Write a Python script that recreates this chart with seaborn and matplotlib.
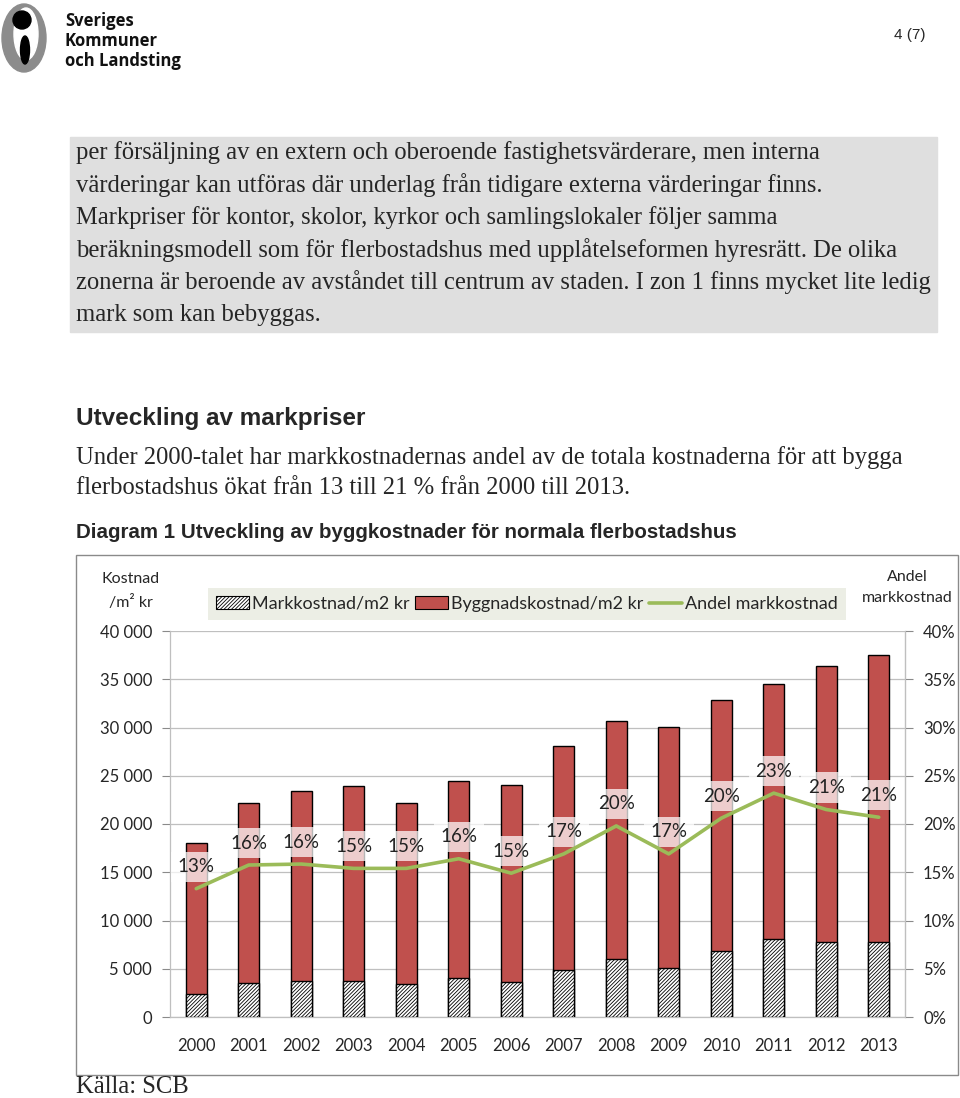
import matplotlib
matplotlib.use("Agg")
import matplotlib.pyplot as plt
import matplotlib.patches as mpatches
from matplotlib.lines import Line2D
from matplotlib.ticker import FuncFormatter, MultipleLocator
import seaborn as sns
import pandas as pd
import numpy as np

# data
years = ["2000", "2001", "2002", "2003", "2004", "2005", "2006",
         "2007", "2008", "2009", "2010", "2011", "2012", "2013"]
total_cost = [18000, 22200, 23400, 23900, 22200, 24500, 24000,
              28100, 30700, 30100, 32800, 34500, 36400, 37500]
land_cost = [2400, 3500, 3700, 3700, 3400, 4000, 3600,
             4900, 6000, 5100, 6800, 8100, 7800, 7800]
land_share = [13.3, 15.75, 15.85, 15.4, 15.4, 16.4, 14.9,
              16.9, 19.8, 16.9, 20.6, 23.2, 21.5, 20.7]
share_labels = ["13%", "16%", "16%", "15%", "15%", "16%", "15%",
                "17%", "20%", "17%", "20%", "23%", "21%", "21%"]

box_lines = [
    "per försäljning av en extern och oberoende fastighetsvärderare, men interna",
    "värderingar kan utföras där underlag från tidigare externa värderingar finns.",
    "Markpriser för kontor, skolor, kyrkor och samlingslokaler följer samma",
    "beräkningsmodell som för flerbostadshus med upplåtelseformen hyresrätt. De olika",
    "zonerna är beroende av avståndet till centrum av staden. I zon 1 finns mycket lite ledig",
    "mark som kan bebyggas.",
]
para_lines = [
    "Under 2000-talet har markkostnadernas andel av de totala kostnaderna för att bygga",
    "flerbostadshus ökat från 13 till 21 % från 2000 till 2013.",
]

RED = "#c0504d"
GREEN = "#9bbb59"
GRID = "#bfbfbf"

W, H = 960, 1098

sns.set_style("white")
plt.rcParams["hatch.linewidth"] = 0.6
plt.rcParams["font.family"] = ["Lato", "DejaVu Sans"]

fig = plt.figure(figsize=(W / 100, H / 100), dpi=100)


def fx(x):
    return x / W


def fy(y):
    return 1 - y / H


serif = "Liberation Serif"
sans = "Liberation Sans"
SERIF_SIZE = 17.7

# ---- page header: logo + page number
logo = [
    mpatches.Ellipse((fx(24), fy(38)), fx(44), 68 / H, color="#8c8c8c"),
    mpatches.Ellipse((fx(26), fy(34)), fx(24), 52 / H, color="white"),
    mpatches.Ellipse((fx(22), fy(20)), fx(18), 18 / H, color="black"),
    mpatches.Ellipse((fx(25), fy(50)), fx(9), 28 / H, color="black"),
]
for p in logo:
    p.set_transform(fig.transFigure)
    fig.patches.append(p)
for i, word in enumerate(["Sveriges", "Kommuner", "och Landsting"]):
    fig.text(fx(65), fy(21 + 20 * i), word, fontsize=12, fontweight="bold",
             family="Open Sans", va="center", ha="left", color="#111111")
fig.text(fx(926), fy(35), "4 (7)", fontsize=11, family=sans, ha="right", va="center")

# ---- grey text box
fig.patches.append(mpatches.Rectangle((fx(70), fy(332)), fx(937) - fx(70), (332 - 137) / H,
                                      transform=fig.transFigure, color="#dfdfdf", zorder=0))
for i, line in enumerate(box_lines):
    fig.text(fx(76), fy(153 + 32.3 * i), line, fontsize=SERIF_SIZE, family=serif,
             ha="left", va="center")

fig.text(fx(76), fy(419), "Utveckling av markpriser", fontsize=17.5, fontweight="bold",
         family=sans, ha="left", va="center")
for i, line in enumerate(para_lines):
    fig.text(fx(76), fy(458 + 30 * i), line, fontsize=SERIF_SIZE, family=serif,
             ha="left", va="center")
fig.text(fx(76), fy(533), "Diagram 1 Utveckling av byggkostnader för normala flerbostadshus",
         fontsize=14.8, fontweight="bold", family=sans, ha="left", va="center")
fig.text(fx(76), fy(1087), "Källa: SCB", fontsize=SERIF_SIZE, family=serif, ha="left", va="center")

# chart frame
fig.patches.append(mpatches.Rectangle((fx(76), fy(1075)), fx(958) - fx(76), (1075 - 555) / H,
                                      transform=fig.transFigure, fill=False,
                                      edgecolor="#8a8a8a", lw=1.0, zorder=0))

# ---- chart
df = pd.DataFrame({"year": years, "total": total_cost, "land": land_cost,
                   "share": land_share})

ax = fig.add_axes([fx(170), fy(1017), fx(905) - fx(170), (1017 - 631) / H])
sns.barplot(data=df, x="year", y="total", color=RED, width=0.4, saturation=1,
            edgecolor="black", linewidth=1.0, ax=ax, zorder=2)
sns.barplot(data=df, x="year", y="land", color="white", width=0.4, saturation=1,
            edgecolor="black", linewidth=1.0, hatch="/////////", ax=ax, zorder=3)

ax.set_xlim(-0.5, len(years) - 0.5)
ax.set_ylim(0, 40000)
ax.yaxis.set_major_locator(MultipleLocator(5000))
ax.yaxis.set_major_formatter(FuncFormatter(lambda v, p: f"{int(v):,}".replace(",", " ")))
ax.yaxis.grid(True, color=GRID, lw=0.9, zorder=0)
ax.set_axisbelow(True)
ax.set_xlabel("")
ax.set_ylabel("")
ax.spines["top"].set_visible(False)
for s in ["left", "bottom", "right"]:
    ax.spines[s].set_color(GRID)
    ax.spines[s].set_linewidth(0.9)
ax.tick_params(axis="x", length=0, pad=15, labelsize=12)
ax.set_xticks(np.arange(len(years) + 1) - 0.5, minor=True)
ax.tick_params(axis="x", which="minor", length=5, color="#8a8a8a", direction="out")
ax.tick_params(axis="y", length=6, color="#8a8a8a", labelsize=12, pad=7, left=True)

ax2 = ax.twinx()
sns.lineplot(x=df.index, y=df["share"], color=GREEN, lw=2.6, ax=ax2, zorder=5)
ax2.set_ylim(0, 40)
ax2.yaxis.set_major_locator(MultipleLocator(5))
ax2.yaxis.set_major_formatter(FuncFormatter(lambda v, p: f"{int(v)}%"))
ax2.set_ylabel("")
ax2.tick_params(axis="y", length=6, color="#8a8a8a", labelsize=12, pad=7)
for s in ["top", "left", "bottom"]:
    ax2.spines[s].set_visible(False)
ax2.spines["right"].set_color(GRID)

for i, lab in enumerate(share_labels):
    ax2.annotate(lab, (i, land_share[i]), xytext=(0, 22), textcoords="offset pixels",
                 ha="center", va="center", fontsize=13.5, color="#222222",
                 bbox=dict(boxstyle="square,pad=0.35", fc="white", ec="none", alpha=0.72))

# axis titles
fig.text(fx(131), fy(579), "Kostnad", fontsize=11.5, ha="center", va="center")
fig.text(fx(131), fy(603), "/m² kr", fontsize=11.5, ha="center", va="center")
fig.text(fx(907), fy(577), "Andel", fontsize=11.5, ha="center", va="center")
fig.text(fx(907), fy(598), "markkostnad", fontsize=11.5, ha="center", va="center")

# legend
handles = [
    mpatches.Patch(facecolor="white", edgecolor="black", hatch="/////////", lw=0.8),
    mpatches.Patch(facecolor=RED, edgecolor="black", lw=0.8),
    Line2D([0], [0], color=GREEN, lw=2.6),
]
labels = ["Markkostnad/m2 kr", "Byggnadskostnad/m2 kr", "Andel markkostnad"]
leg = fig.legend(handles, labels, ncol=3, loc="lower left", mode="expand",
                 bbox_to_anchor=(fx(208), fy(620), fx(846) - fx(208), 34 / H),
                 bbox_transform=fig.transFigure, fontsize=13, frameon=True,
                 fancybox=False, handlelength=1.8, handletextpad=0.2,
                 borderaxespad=0, borderpad=0.45)
leg.get_frame().set_facecolor("#e8eadf")
leg.get_frame().set_edgecolor("none")

fig.savefig("out.png", dpi=100)
